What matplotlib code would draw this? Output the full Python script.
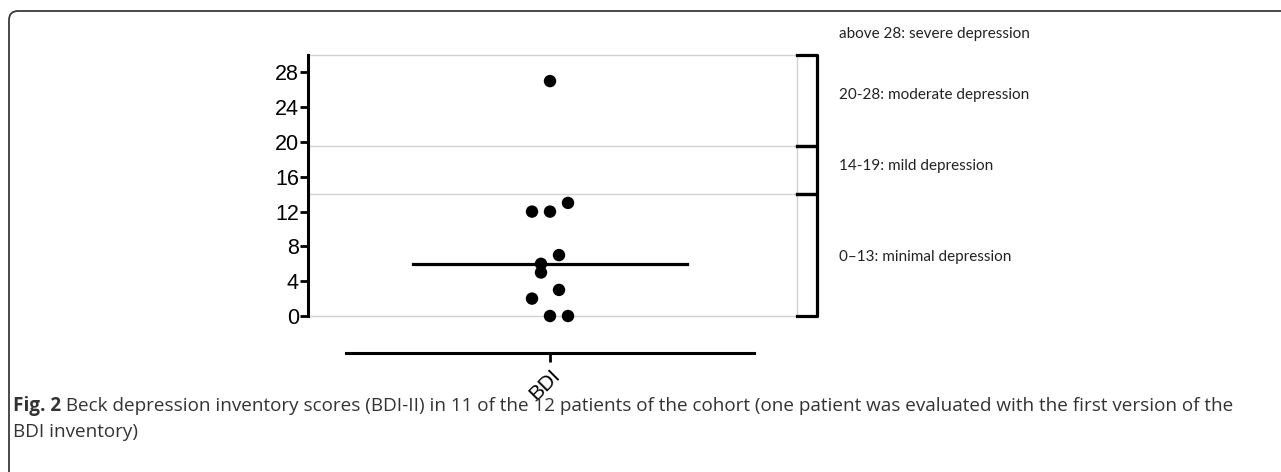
import matplotlib.pyplot as plt
import numpy as np
from matplotlib.patches import FancyBboxPatch
from matplotlib.transforms import IdentityTransform

# BDI-II scores, 11 patients
bdi_scores = [27, 13, 12, 12, 7, 6, 5, 3, 2, 0, 0]
# swarm column of each dot (layout only)
swarm_slot = [0, 2, -2, 0, 1, -1, -1, 1, -2, 0, 2]
median_score = 6

band_edges = [0, 14, 19.5, 30]
band_labels = ["above 28: severe depression", "20-28: moderate depression",
               "14-19: mild depression", "0\u201313: minimal depression"]
label_y = [32.4, 25.4, 17.2, 6.8]
yticks = [0, 4, 8, 12, 16, 20, 24, 28]

caption_bold = "Fig. 2"
caption_rest = (" Beck depression inventory scores (BDI-II) in 11 of the 12 patients of the cohort "
                "(one patient was evaluated with the first version of the")
caption_line2 = "BDI inventory)"

W, H = 1281, 472
fig = plt.figure(figsize=(W / 100, H / 100), dpi=100)

# axes box in pixels: x 308..797, y(0)=316, y(30)=55
ax = fig.add_axes([308 / W, (H - 316) / H, (797 - 308) / W, (316 - 55) / H])
ax.set_xlim((308 - 550) / 408, (797 - 550) / 408)
ax.set_ylim(0, 30)
ax.patch.set_alpha(0)

step = 9 / 408
xs = np.array(swarm_slot) * step
ax.scatter(xs, bdi_scores, s=80, c="black", edgecolors="none", zorder=5, clip_on=False)
ax.plot([-0.335, 0.335], [median_score, median_score], color="black", lw=2.3, zorder=4)

# gray band outlines
xr = (797 - 550) / 408
for e in band_edges:
    ax.plot([-0.59, xr], [e, e], color="#d2d2d2", lw=1.0, zorder=1, clip_on=False)
ax.plot([xr, xr], [0, 30], color="#d2d2d2", lw=1.0, zorder=1, clip_on=False)

# brackets on the right
xb = (817 - 550) / 408
for lo, hi in zip(band_edges[:-1], band_edges[1:]):
    ax.plot([xr, xb, xb, xr], [hi, hi, lo, lo], color="black", lw=2.3,
            solid_joinstyle="round", clip_on=False, zorder=3)

xt = (839 - 550) / 408
for lab, yy in zip(band_labels, label_y):
    ax.text(xt, yy, lab, fontsize=11, family="Lato", color="#222222",
            ha="left", va="center", clip_on=False)

# axes styling
for s in ["top", "right"]:
    ax.spines[s].set_visible(False)
ax.spines["left"].set_linewidth(2.2)
ax.spines["left"].set_bounds(0, 30)
ax.spines["bottom"].set_linewidth(2.2)
ax.spines["bottom"].set_position(("outward", 37 * 0.72))
ax.spines["bottom"].set_bounds(-0.5, 0.5)
ax.set_yticks(yticks)
ax.set_yticklabels([str(t) for t in yticks], fontsize=15.5, family="Liberation Sans")
ax.tick_params(axis="y", length=6, width=2, pad=0.5)
ax.set_xticks([0])
ax.set_xticklabels(["BDI"], fontsize=15, family="Liberation Sans",
                   rotation=45, ha="right", va="top", rotation_mode="anchor")
ax.tick_params(axis="x", length=6.5, width=2, pad=3)

# caption
cap_fs = 13.6
cap_y1, cap_y2 = 1 - 406 / H, 1 - 432 / H
t0 = fig.text(13 / W, cap_y1, caption_bold, fontsize=cap_fs, family="Open Sans",
              weight="bold", color="#333333", va="center")
fig.canvas.draw()
bb = t0.get_window_extent()
fig.text(bb.x1 / W, cap_y1, caption_rest, fontsize=cap_fs, family="Open Sans",
         color="#333333", va="center")
fig.text(13 / W, cap_y2, caption_line2, fontsize=cap_fs, family="Open Sans",
         color="#333333", va="center")

# rounded figure frame (top and left edges visible)
frame = FancyBboxPatch((9, -60), 1400, H - 11 + 60, boxstyle="round,pad=0,rounding_size=9",
                       transform=IdentityTransform(), fill=False, ec="#3a3a3a", lw=1.3)
fig.patches.append(frame)

fig.savefig("out.png", dpi=100)
